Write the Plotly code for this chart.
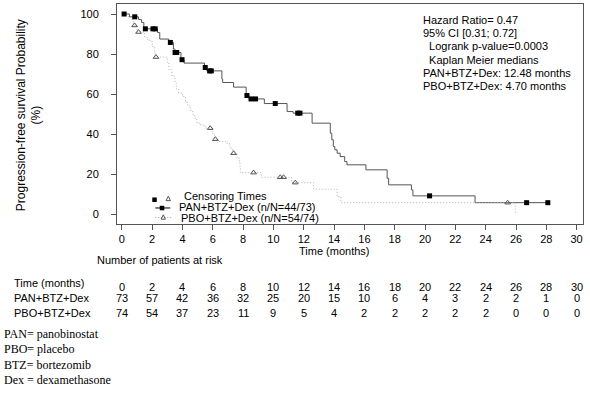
import plotly.graph_objects as go

# ---------------- data ----------------
pan_t = [0, 0.5, 1.1, 1.3, 1.45, 2.35, 2.5, 3.1, 3.4, 3.5, 3.9, 4.1, 5.45, 5.6, 6.6, 6.65, 7.37,
         8.2, 8.4, 9.4, 10.9, 11.3, 12.55, 13.75, 13.85, 13.95, 14.05, 14.2, 14.4, 14.7, 14.85,
         16.1, 17.5, 17.6, 19.1, 19.2, 23.3, 28.1]
pan_s = [100, 98.6, 97.2, 95.8, 92.6, 90.8, 87.5, 85.8, 82.5, 80.8, 77.2, 75.5, 73.3, 71.6, 67.5, 65.8, 63.5,
         59.3, 57.6, 55.3, 51.3, 50.5, 45.5, 40.5, 37.2, 33.8, 32.2, 30.5, 28.8, 26.3, 24.7,
         22.2, 18.0, 14.7, 12.2, 9.2, 5.8, 5.8]
pan_cens_t = [0.15, 0.85, 1.55, 2.05, 2.2, 3.2, 3.51, 3.62, 3.97, 5.5, 5.79, 5.9, 8.25, 8.52, 8.82,
              10.12, 11.6, 11.75, 20.3, 26.7, 28.1]
pan_cens_s = [100, 98.6, 92.6, 92.6, 92.6, 85.8, 80.8, 80.8, 77.2, 73.3, 71.6, 71.6, 59.3, 57.6, 57.6,
              55.3, 50.5, 50.5, 9.2, 5.8, 5.8]

pbo_t = [0, 0.4, 0.6, 0.75, 0.8, 1.0, 1.5, 1.66, 1.85, 2.0, 2.15, 2.2, 3.0, 3.1, 3.3, 3.5, 3.6, 3.75,
         4.0, 4.2, 4.3, 4.45, 4.55, 4.7, 4.8, 4.95, 5.2, 5.5, 5.9, 6.0, 6.1, 6.35, 6.9, 7.1, 7.15, 7.3,
         7.6, 7.75, 7.8, 7.82, 9.2, 11.2, 12.65, 14.2, 14.45, 25.95]
pbo_s = [100, 98.6, 97.3, 95.9, 94.3, 91.0, 88.5, 87.2, 86.3, 83.8, 81.0, 78.5, 75.5, 72.2, 69.0, 65.5, 62.5, 60.5,
         58.8, 56.5, 54.7, 53.0, 51.3, 49.5, 48.0, 45.5, 44.5, 43.0, 41.5, 40.0, 37.5, 36.3, 35.5, 34.0, 33.0, 30.5,
         28.0, 25.5, 23.0, 20.8, 18.5, 15.8, 12.5, 8.8, 5.8, 0]
pbo_cens_t = [0.84, 1.1, 2.25, 5.83, 6.17, 7.37, 8.69, 10.45, 10.67, 11.44, 25.45]
pbo_cens_s = [94.3, 91.0, 78.5, 43.0, 37.5, 30.5, 20.8, 18.5, 18.5, 15.8, 5.8]

risk_times = [0, 2, 4, 6, 8, 10, 12, 14, 16, 18, 20, 22, 24, 26, 28, 30]
risk_pan = [73, 57, 42, 36, 32, 25, 20, 15, 10, 6, 4, 3, 2, 2, 1, 0]
risk_pbo = [74, 54, 37, 23, 11, 9, 5, 4, 2, 2, 2, 2, 2, 0, 0, 0]

x_ticks = list(range(0, 31, 2))
y_ticks = [0, 20, 40, 60, 80, 100]

stats_lines = ["Hazard Ratio= 0.47", "95% CI [0.31; 0.72]", "  Logrank p-value=0.0003",
               "  Kaplan Meier medians", "PAN+BTZ+Dex: 12.48 months", "PBO+BTZ+Dex: 4.70 months"]
footnotes = ["PAN= panobinostat", "PBO= placebo", "BTZ= bortezomib", "Dex = dexamethasone"]

# ---------------- layout helpers ----------------
W, H = 590, 396
L, R, T, B = 116.7, 583.0, 4.3, 224.0
SANS = "Liberation Sans, Arial, sans-serif"
SERIF = "Liberation Serif, Times New Roman, serif"


def px(x):
    return (x - L) / (R - L)


def py(y):
    return (B - y) / (B - T)


fig = go.Figure()
fig.add_trace(go.Scatter(x=pan_t, y=pan_s, mode="lines", line=dict(shape="hv", color="#555555", width=1),
                         showlegend=False, hoverinfo="skip"))
fig.add_trace(go.Scatter(x=pbo_t, y=pbo_s, mode="lines",
                         line=dict(shape="hv", color="#b0b0b0", width=1, dash="1px,2px"),
                         showlegend=False, hoverinfo="skip"))
fig.add_trace(go.Scatter(x=pan_cens_t, y=pan_cens_s, mode="markers",
                         marker=dict(symbol="square", size=5, color="#000000"), showlegend=False))
fig.add_trace(go.Scatter(x=pbo_cens_t, y=pbo_cens_s, mode="markers",
                         marker=dict(symbol="triangle-up-open", size=5, color="#555555",
                                     line=dict(width=1, color="#555555")), showlegend=False))

ann = []
# stats box
for i, s in enumerate(stats_lines):
    ann.append(dict(x=px(422), y=py(20.5 + 13.1 * i), xref="paper", yref="paper", xanchor="left",
                    yanchor="middle", text=s.replace(" ", "&nbsp;") if s.startswith(" ") else s,
                    showarrow=False, borderpad=0, font=dict(family=SANS, size=11, color="#000")))
# y title
ann.append(dict(x=px(28), y=py(115), xref="paper", yref="paper", textangle=-90,
                text="Progression-free survival Probability<br>(%)", showarrow=False,
                font=dict(family=SANS, size=12, color="#000"), xanchor="center", yanchor="middle"))
# x title
ann.append(dict(x=px(297), y=py(251), xref="paper", yref="paper", xanchor="left", yanchor="middle",
                text="Time (months)", showarrow=False, font=dict(family=SANS, size=11, color="#000")))
ann.append(dict(x=px(95), y=py(259.5), xref="paper", yref="paper", xanchor="left", yanchor="middle",
                text="Number of patients at risk", showarrow=False, font=dict(family=SANS, size=11, color="#000")))
# risk table
ann.append(dict(x=px(12), y=py(283), xref="paper", yref="paper", xanchor="left", yanchor="middle",
                text="Time (months)", showarrow=False, font=dict(family=SANS, size=11, color="#000")))
ann.append(dict(x=px(12), y=py(297.5), xref="paper", yref="paper", xanchor="left", yanchor="middle",
                text="PAN+BTZ+Dex", showarrow=False, font=dict(family=SANS, size=11, color="#000")))
ann.append(dict(x=px(12), y=py(312.5), xref="paper", yref="paper", xanchor="left", yanchor="middle",
                text="PBO+BTZ+Dex", showarrow=False, font=dict(family=SANS, size=11, color="#000")))
for t, a, b in zip(risk_times, risk_pan, risk_pbo):
    for val, yy in ((t, 286.5), (a, 297.5), (b, 312.5)):
        ann.append(dict(x=t, y=py(yy), xref="x", yref="paper", xanchor="center", yanchor="middle",
                        text=str(val), showarrow=False, borderpad=0,
                        font=dict(family=SANS, size=11, color="#000")))
# footnotes
for i, s in enumerate(footnotes):
    ann.append(dict(x=px(2), y=py(334 + 15.2 * i), xref="paper", yref="paper", xanchor="left",
                    yanchor="middle", text=s, showarrow=False, font=dict(family=SERIF, size=12, color="#000")))
# legend texts
ann.append(dict(x=px(182.5), y=py(196.5), xref="paper", yref="paper", xanchor="left", yanchor="middle",
                text="Censoring Times", showarrow=False, borderpad=0, font=dict(family=SANS, size=11, color="#000")))
ann.append(dict(x=px(177.5), y=py(207.3), xref="paper", yref="paper", xanchor="left", yanchor="middle",
                text="PAN+BTZ+Dex (n/N=44/73)", showarrow=False, borderpad=0,
                font=dict(family=SANS, size=11, color="#000")))
ann.append(dict(x=px(179.5), y=py(217.7), xref="paper", yref="paper", xanchor="left", yanchor="middle",
                text="PBO+BTZ+Dex (n/N=54/74)", showarrow=False, borderpad=0,
                font=dict(family=SANS, size=11, color="#000")))

shapes = []
# legend samples
shapes.append(dict(type="rect", xref="paper", yref="paper", x0=px(152), x1=px(156.5), y0=py(202), y1=py(197.5),
                   fillcolor="#000", line=dict(width=0)))


def tri(cx, cy, s=2.2):
    return (f"M {px(cx - s)} {py(cy + s)} L {px(cx + s)} {py(cy + s)} L {px(cx)} {py(cy - s)} Z")


shapes.append(dict(type="path", xref="paper", yref="paper", path=tri(168, 198.5), line=dict(color="#555", width=1)))
shapes.append(dict(type="line", xref="paper", yref="paper", x0=px(155), x1=px(170), y0=py(208), y1=py(208),
                   line=dict(color="#000", width=1)))
shapes.append(dict(type="rect", xref="paper", yref="paper", x0=px(159.5), x1=px(164), y0=py(210.3), y1=py(205.8),
                   fillcolor="#000", line=dict(width=0)))
shapes.append(dict(type="line", xref="paper", yref="paper", x0=px(155), x1=px(173), y0=py(217.5), y1=py(217.5),
                   line=dict(color="#999", width=1, dash="1px,2px")))
shapes.append(dict(type="path", xref="paper", yref="paper", path=tri(163, 217), line=dict(color="#555", width=1),
                   fillcolor="white"))

fig.update_layout(
    width=W, height=H, plot_bgcolor="white", paper_bgcolor="white",
    margin=dict(l=L, r=W - R, t=T, b=H - B, pad=0, autoexpand=False),
    annotations=ann, shapes=shapes, showlegend=False,
    font=dict(family=SANS, size=11, color="#000"),
)
fig.update_xaxes(range=[-0.32, 30.42], tickvals=x_ticks, ticks="outside", ticklen=5, tickcolor="#555",
                 showline=True, linecolor="#555", linewidth=1, mirror=True, showgrid=False, zeroline=False,
                 automargin=False, tickfont=dict(family=SANS, size=11, color="#000"))
fig.update_yaxes(range=[-4.85, 105.0], tickvals=y_ticks, ticks="outside", ticklen=5, tickcolor="#555",
                 showline=True, linecolor="#555", linewidth=1, mirror=True, showgrid=False, zeroline=False,
                 automargin=False, ticklabelstandoff=10, tickfont=dict(family=SANS, size=11, color="#000"))

fig.write_html("out.html", config={"displayModeBar": False},
               post_script="document.body.style.margin='0';document.body.style.overflow='hidden';")
